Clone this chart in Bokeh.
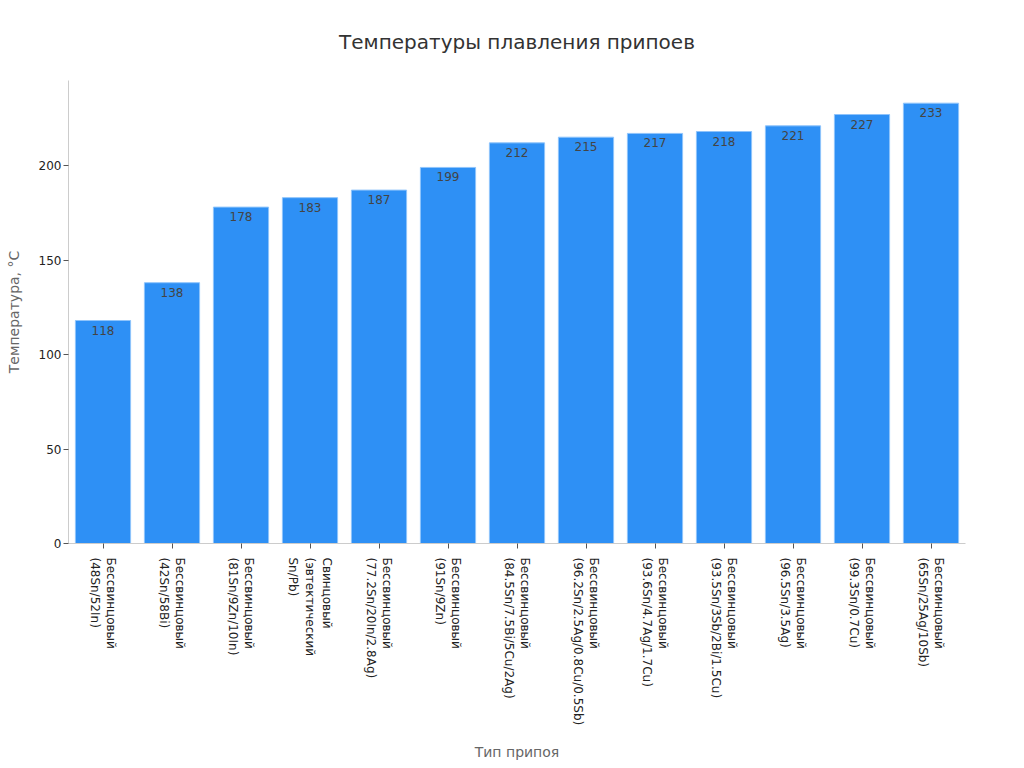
import math
from bokeh.plotting import figure
from bokeh.models import ColumnDataSource, Range1d, FixedTicker
from bokeh.core.properties import value
from bokeh.embed import file_html
from bokeh.resources import INLINE

title_text = "Температуры плавления припоев"
categories = [
    "Бессвинцовый\n(48Sn/52In)",
    "Бессвинцовый\n(42Sn/58Bi)",
    "Бессвинцовый\n(81Sn/9Zn/10In)",
    "Свинцовый\n(эвтектический\nSn/Pb)",
    "Бессвинцовый\n(77.2Sn/20In/2.8Ag)",
    "Бессвинцовый\n(91Sn/9Zn)",
    "Бессвинцовый\n(84.5Sn/7.5Bi/5Cu/2Ag)",
    "Бессвинцовый\n(96.2Sn/2.5Ag/0.8Cu/0.5Sb)",
    "Бессвинцовый\n(93.6Sn/4.7Ag/1.7Cu)",
    "Бессвинцовый\n(93.5Sn/3Sb/2Bi/1.5Cu)",
    "Бессвинцовый\n(96.5Sn/3.5Ag)",
    "Бессвинцовый\n(99.3Sn/0.7Cu)",
    "Бессвинцовый\n(65Sn/25Ag/10Sb)",
]
temps = [118, 138, 178, 183, 187, 199, 212, 215, 217, 218, 221, 227, 233]
y_ticks = [0, 50, 100, 150, 200]

source = ColumnDataSource(data=dict(
    cat=categories, temp=temps, lbl=[str(t) for t in temps]))

FONT = "DejaVu Sans"

p = figure(
    x_range=categories,
    y_range=Range1d(0, 245),
    width=1008, height=755,
    frame_width=897, frame_height=463,
    min_border_left=68, min_border_right=43, min_border_top=80,
    min_border_bottom=200,
    output_backend="svg", toolbar_location=None,
    title=title_text,
)
p.x_range.range_padding = 0

p.title.align = "center"
p.title.text_font = FONT
p.title.text_font_size = "20px"
p.title.text_font_style = "normal"
p.title.text_color = "#333333"
p.title.offset = 0
p.title.standoff = 53

p.vbar(x="cat", top="temp", width=0.8, source=source,
       fill_color="#2e90f5", line_color="#8fc4fb", line_width=1)

p.text(x="cat", y="temp", text="lbl", source=source,
       text_align="center", text_baseline="top", y_offset=5,
       text_font=value(FONT), text_font_size="12px", text_color="#444444")

p.xgrid.visible = False
p.ygrid.visible = False
p.outline_line_color = None

p.yaxis.ticker = FixedTicker(ticks=y_ticks)
p.yaxis.axis_label = "Температура, °C"
p.xaxis.axis_label = "Тип припоя"
for ax in (p.xaxis, p.yaxis):
    ax.axis_label_text_font = FONT
    ax.axis_label_text_font_size = "14px"
    ax.axis_label_text_font_style = "normal"
    ax.axis_label_text_color = "#666666"
    ax.major_label_text_font = FONT
    ax.major_label_text_font_size = "12px"
    ax.major_label_text_color = "#222222"
    ax.axis_line_color = "#cccccc"
    ax.major_tick_line_color = "#555555"
    ax.major_tick_out = 5
    ax.major_tick_in = 0
    ax.minor_tick_line_color = None

p.yaxis.major_label_standoff = 2
p.yaxis.axis_label_standoff = 14
p.xaxis.major_label_orientation = -math.pi / 2
p.xaxis.major_label_standoff = 9
p.xaxis.axis_label_standoff = 16

open("out.html", "w").write(file_html(p, INLINE))
